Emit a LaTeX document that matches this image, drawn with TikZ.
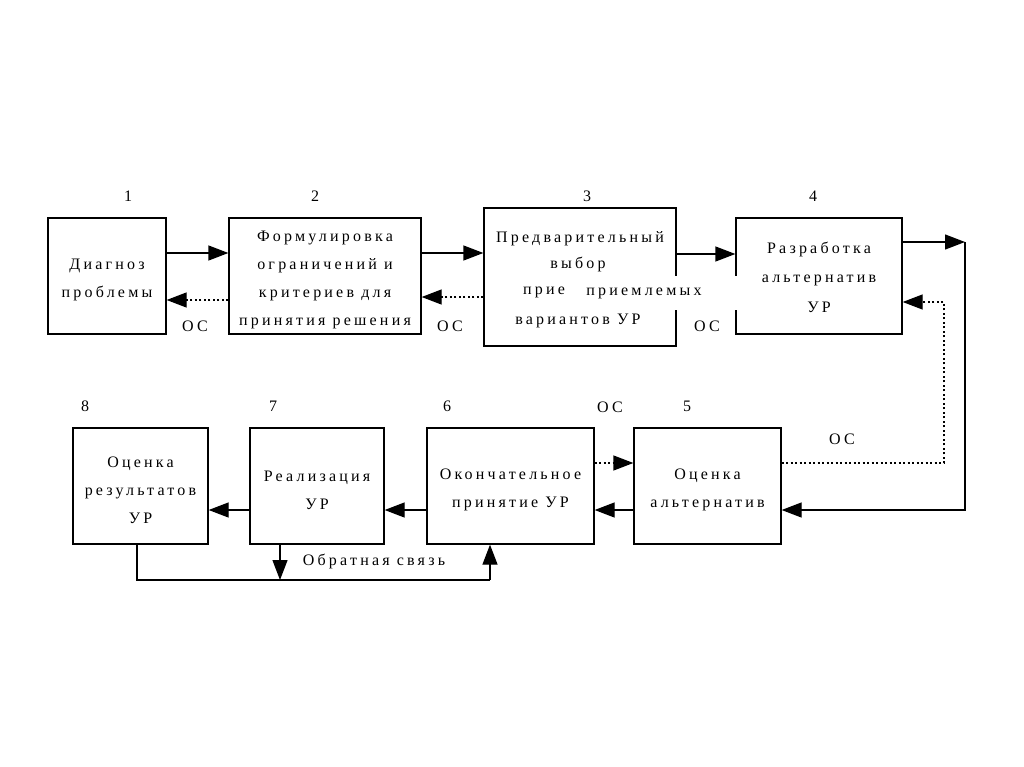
\documentclass[tikz,border=0pt]{standalone}
\usepackage{fontspec}
\setmainfont{Liberation Serif}[LetterSpace=20]
\usetikzlibrary{arrows.meta}
\tikzset{
  box/.style={draw, line width=1.3pt, inner sep=0pt},
  txt/.style={inner sep=0pt, align=center, font=\fontsize{16}{28}\selectfont},
  lbl/.style={inner sep=0pt, font=\fontsize{16}{18}\selectfont},
  conn/.style={line width=1.3pt},
  arr/.style={line width=1.3pt, -{Triangle[length=20pt,width=15pt]}},
  dot/.style={line width=1.3pt, dash pattern=on 2pt off 2.5pt},
}
\begin{document}
\begin{tikzpicture}[x=1pt,y=-1pt]
\useasboundingbox (0,0) rectangle (1024,767);
% boxes
\node[box, minimum width=118pt, minimum height=116pt] (b1) at (107,276) {};
\node[box, minimum width=192pt, minimum height=116pt] (b2) at (325,276) {};
\node[box, minimum width=192pt, minimum height=138pt] (b3) at (580,277) {};
\node[box, minimum width=166pt, minimum height=116pt] (b4) at (819,276) {};
\node[box, minimum width=135pt, minimum height=116pt] (b8) at (140.5,486) {};
\node[box, minimum width=134pt, minimum height=116pt] (b7) at (317,486) {};
\node[box, minimum width=167pt, minimum height=116pt] (b6) at (510.5,486) {};
\node[box, minimum width=147pt, minimum height=116pt] (b5) at (707.5,486) {};
% box texts
\node[txt] (t1) at ([yshift=-4pt]b1.center) {Диагноз\\проблемы};
\node[txt] (t2) at ([yshift=-4pt]b2.center) {Формулировка\\ограничений и\\критериев для\\принятия решения};
\node[txt, font=\fontsize{16}{29.5}\selectfont] (t4) at ([yshift=-1pt]b4.center) {Разработка\\альтернатив\\УР};
\node[txt] (t8) at ([yshift=-4pt]b8.center) {Оценка\\результатов\\УР};
\node[txt] (t7) at ([yshift=-4pt]b7.center) {Реализация\\УР};
\node[txt] (t6) at ([yshift=-4pt]b6.center) {Окончательное\\принятие УР};
\node[txt] (t5) at ([yshift=-4pt]b5.center) {Оценка\\альтернатив};
% text of box 3
\node[lbl] (t3a) at (580,239) {Предварительный};
\node[lbl] (t3b) at (578,264) {выбор};
\node[lbl] (t3c) at (544,292) {прие};
\node[lbl, fill=white, minimum width=165pt, minimum height=34pt] (t3d) at (658,293) {\raisebox{-3pt}{\hspace*{-28pt}приемлемых}};
\node[lbl] (t3e) at (578,321) {вариантов УР};
% numbers
\node[lbl] (n1) at (128,196) {1};
\node[lbl] (n2) at (315,196) {2};
\node[lbl] (n3) at (587,196) {3};
\node[lbl] (n4) at (813,196) {4};
\node[lbl] (n8) at (85,406) {8};
\node[lbl] (n7) at (273,406) {7};
\node[lbl] (n6) at (447,406) {6};
\node[lbl] (n5) at (687,406) {5};
% OC labels
\node[lbl] (o1) at (195,326) {ОС};
\node[lbl] (o2) at (450,326) {ОС};
\node[lbl] (o3) at (707,326) {ОС};
\node[lbl] (o4) at (610,407) {ОС};
\node[lbl] (o5) at (842,439) {ОС};
\node[lbl] (fb) at (374,561) {Обратная связь};
% top connectors
\draw[arr] ([yshift=23pt]b1.east) coordinate (p1) -- (p1 -| b2.west);
\draw[dot, arr] ([yshift=-24pt]b2.west) coordinate (p2) -- (p2 -| b1.east);
\draw[arr] ([yshift=23pt]b2.east) coordinate (p3) -- (p3 -| b3.west);
\draw[dot, arr] ([yshift=-20pt]b3.west) coordinate (p4) -- (p4 -| b2.east);
\draw[arr] ([yshift=23pt]b3.east) coordinate (p5) -- (p5 -| b4.west);
% right loop
\coordinate (r1) at (965,242);
\coordinate (r2) at (965,510);
\draw[arr] ([yshift=34pt]b4.east) -- (r1);
\draw[arr] (r1) -- (r2) -- (r2 -| b5.east);
\coordinate (d1) at (944,302);
\coordinate (d2) at (944,463);
\draw[dot, arr] (d2 -| b5.east) -- (d2) -- (d1) -- (d1 -| b4.east);
% bottom connectors
\draw[dot, arr] ([yshift=23pt]b6.east) coordinate (q1) -- (q1 -| b5.west);
\draw[arr] ([yshift=-24pt]b5.west) coordinate (q2) -- (q2 -| b6.east);
\draw[arr] ([yshift=-24pt]b6.west) coordinate (q3) -- (q3 -| b7.east);
\draw[arr] ([yshift=-24pt]b7.west) coordinate (q4) -- (q4 -| b8.east);
% feedback
\coordinate (f1) at (137,580);
\coordinate (f2) at (490,580);
\coordinate (f3) at (280,580);
\draw[conn] (f1 |- b8.south) -- (f1) -- (f2);
\draw[arr] (f2) -- (f2 |- b6.south);
\draw[arr] (f3 |- b7.south) -- (f3);
\end{tikzpicture}
\end{document}
